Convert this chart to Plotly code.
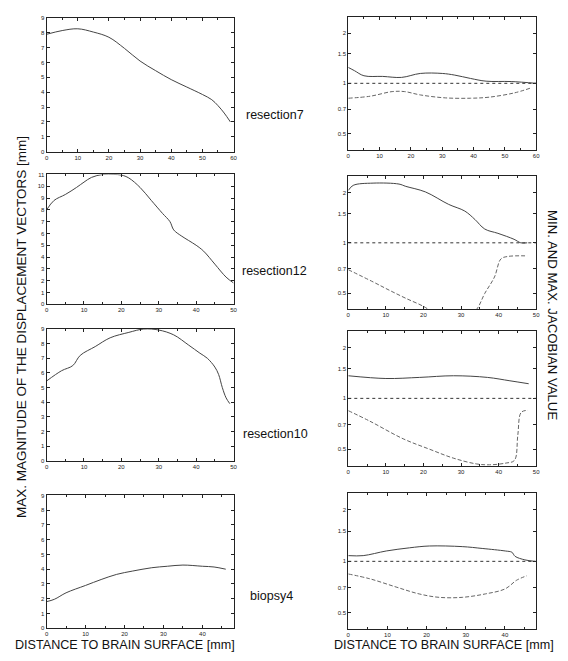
import math
import plotly.graph_objects as go

# left column: max. displacement magnitude [mm]
r7_x = [0, 5, 10, 15, 20, 25, 30, 35, 40, 45, 50, 53, 55, 57, 59]
r7_y = [7.9, 8.15, 8.27, 8.05, 7.7, 6.95, 6.1, 5.45, 4.85, 4.35, 3.85, 3.5, 3.1, 2.6, 2.0]

r12_x = [0, 2, 5, 8, 10, 12, 15, 18, 20, 22, 25, 28, 31, 33, 34, 36, 38, 40, 42, 45, 48, 50]
r12_y = [8.0, 8.8, 9.3, 9.9, 10.35, 10.75, 11.0, 11.0, 10.95, 10.7, 9.9, 8.8, 7.7, 7.0, 6.3, 5.8, 5.4, 5.0, 4.5, 3.4, 2.3, 1.8]

r10_x = [0, 4, 7, 9, 13, 17, 22, 26, 30, 34, 38, 41, 43, 45, 46, 47, 48, 49]
r10_y = [5.45, 6.15, 6.5, 7.2, 7.8, 8.4, 8.77, 9.0, 8.93, 8.6, 7.9, 7.35, 7.0, 6.4, 5.9, 5.0, 4.3, 3.9]

b4_x = [0, 2, 5, 10, 14, 18, 22, 27, 31, 35, 40, 43, 46]
b4_y = [1.8, 1.96, 2.4, 2.9, 3.3, 3.65, 3.87, 4.1, 4.2, 4.28, 4.2, 4.15, 4.0]

# right column: min. and max. jacobian
j7_x = [0, 2, 5, 11, 17, 23, 30, 34, 39, 44, 52, 60]
j7_max = [1.245, 1.19, 1.11, 1.10, 1.085, 1.146, 1.146, 1.12, 1.07, 1.03, 1.025, 1.0]
j7m_x = [0, 7, 14, 18, 23, 31, 39, 45, 53, 58]
j7_min = [0.814, 0.837, 0.892, 0.892, 0.852, 0.818, 0.814, 0.826, 0.876, 0.934]

j12_x = [0, 1.3, 6.6, 13.5, 15.3, 20.5, 26.7, 31, 33.7, 36.3, 39.8, 44.1, 45.9, 47.6]
j12_max = [2.06, 2.21, 2.28, 2.25, 2.18, 2.02, 1.70, 1.55, 1.38, 1.21, 1.14, 1.05, 1.0, 1.0]
j12m_x = [0, 6.6, 10.9, 15.3, 20.5, 24, 30, 34, 36.3, 38.9, 40.6, 42.4, 47.6]
j12_min = [0.69, 0.583, 0.52, 0.465, 0.41, 0.36, 0.34, 0.395, 0.497, 0.624, 0.80, 0.828, 0.835]

j10_x = [0, 10, 19, 28, 37, 43, 48]
j10_max = [1.36, 1.31, 1.33, 1.36, 1.33, 1.27, 1.22]
j10m_x = [0, 5.75, 14.6, 21.7, 27.9, 34.1, 37.6, 42, 44.2, 45.1, 46, 47.8]
j10_min = [0.846, 0.733, 0.577, 0.5, 0.444, 0.41, 0.405, 0.415, 0.43, 0.605, 0.826, 0.85]

j4_x = [0, 3.8, 9.7, 15.6, 20.7, 29.1, 34.2, 40.1, 41.8, 42.6, 45.1, 47.7]
j4_max = [1.08, 1.08, 1.15, 1.20, 1.23, 1.22, 1.19, 1.15, 1.13, 1.07, 1.02, 1.0]
j4m_x = [0, 5.5, 12.2, 18.1, 23.2, 29.1, 35, 40.1, 43, 45.6]
j4_min = [0.843, 0.79, 0.707, 0.644, 0.615, 0.615, 0.644, 0.69, 0.775, 0.823]

names = ["resection7", "resection12", "resection10", "biopsy4"]
left_data = [(r7_x, r7_y), (r12_x, r12_y), (r10_x, r10_y), (b4_x, b4_y)]
right_data = [(j7_x, j7_max, j7m_x, j7_min), (j12_x, j12_max, j12m_x, j12_min),
              (j10_x, j10_max, j10m_x, j10_min), (j4_x, j4_max, j4m_x, j4_min)]
x_max = [60, 50, 50, 48]
y_max = [9, 11, 9, 9]
jac_ticks = [0.5, 0.7, 1, 1.5, 2]
jac_labels = ["0.5", "0.7", "1", "1.5", "2"]

# the page body has an 8px margin, so the figure is drawn 8px in from the window
OFF = 8
W, H = 568 - 2 * OFF, 661 - 2 * OFF
# pixel boxes of the panels in window coordinates (top, bottom)
left_rows = [(15, 150), (173, 304), (329, 462), (497, 631)]
right_rows = [(14, 148), (175, 309), (331, 467), (495, 632)]
left_x = (45, 234)
right_x = (350, 540)
name_pos = [(276, 113), (275, 270), (276, 435), (272, 598)]
FONT = "Liberation Sans, Arial, sans-serif"

def px(a, b):
    return [(a - OFF) / W, (b - OFF) / W]

def py(t, b):
    return [1 - (b - OFF) / H, 1 - (t - OFF) / H]

def note(text, x, y, size, angle=0):
    fig.add_annotation(text=text, x=(x - OFF) / W, y=1 - (y - OFF) / H, xref="paper", yref="paper",
                       xanchor="center", yanchor="middle", showarrow=False, textangle=angle,
                       font=dict(family=FONT, size=size, color="#111"))

fig = go.Figure()
tickfont = dict(family=FONT, size=6, color="#222")
axis_style = dict(showline=True, linecolor="#222", linewidth=1, mirror="allticks",
                  ticks="inside", ticklen=3, tickcolor="#222", showgrid=False,
                  zeroline=False, tickfont=tickfont)

layout = {}
for i in range(4):
    n = 2 * i + 1
    m = 2 * i + 2
    # left panel
    fig.add_trace(go.Scatter(x=left_data[i][0], y=left_data[i][1], mode="lines",
                             line=dict(color="#444", width=1), xaxis="x%d" % n, yaxis="y%d" % n,
                             showlegend=False, line_shape="spline"))
    layout["xaxis%d" % n] = dict(axis_style, domain=px(*left_x), range=[0, x_max[i]],
                                 dtick=10, minor=dict(dtick=5, ticks="inside", ticklen=2, tickcolor="#222"),
                                 anchor="y%d" % n)
    layout["yaxis%d" % n] = dict(axis_style, domain=py(*left_rows[i]), range=[0, y_max[i]],
                                 dtick=1, anchor="x%d" % n)
    # right panel
    jx, jmax, jmx, jmin = right_data[i]
    fig.add_trace(go.Scatter(x=jx, y=jmax, mode="lines", line=dict(color="#444", width=1),
                             xaxis="x%d" % m, yaxis="y%d" % m, showlegend=False, line_shape="spline"))
    fig.add_trace(go.Scatter(x=jmx, y=jmin, mode="lines", line=dict(color="#666", width=1, dash="4px,2px"),
                             xaxis="x%d" % m, yaxis="y%d" % m, showlegend=False, line_shape="spline"))
    layout["xaxis%d" % m] = dict(axis_style, domain=px(*right_x), range=[0, x_max[i]],
                                 dtick=10, minor=dict(dtick=5, ticks="inside", ticklen=2, tickcolor="#222"),
                                 anchor="y%d" % m)
    layout["yaxis%d" % m] = dict(axis_style, domain=py(*right_rows[i]), type="log",
                                 range=[math.log10(0.4), math.log10(2.5)],
                                 tickvals=jac_ticks, ticktext=jac_labels, anchor="x%d" % m)
    fig.add_shape(type="line", xref="x%d domain" % m, yref="y%d" % m, x0=0, x1=1, y0=1, y1=1,
                  line=dict(color="#333", width=1, dash="dot"))
    note(names[i], name_pos[i][0], name_pos[i][1], 12.5)

note("MAX. MAGNITUDE OF THE DISPLACEMENT VECTORS [mm]", 19, 327, 13.5, -90)
note("MIN. AND MAX. JACOBIAN VALUE", 557, 315, 13.2, 90)
note("DISTANCE TO BRAIN SURFACE [mm]", 124, 648, 12.6)
note("DISTANCE TO BRAIN SURFACE [mm]", 447, 648, 12.6)

fig.update_layout(width=W, height=H, margin=dict(l=0, r=0, t=0, b=0),
                  plot_bgcolor="white", paper_bgcolor="white", **layout)
fig.write_html("out.html")
